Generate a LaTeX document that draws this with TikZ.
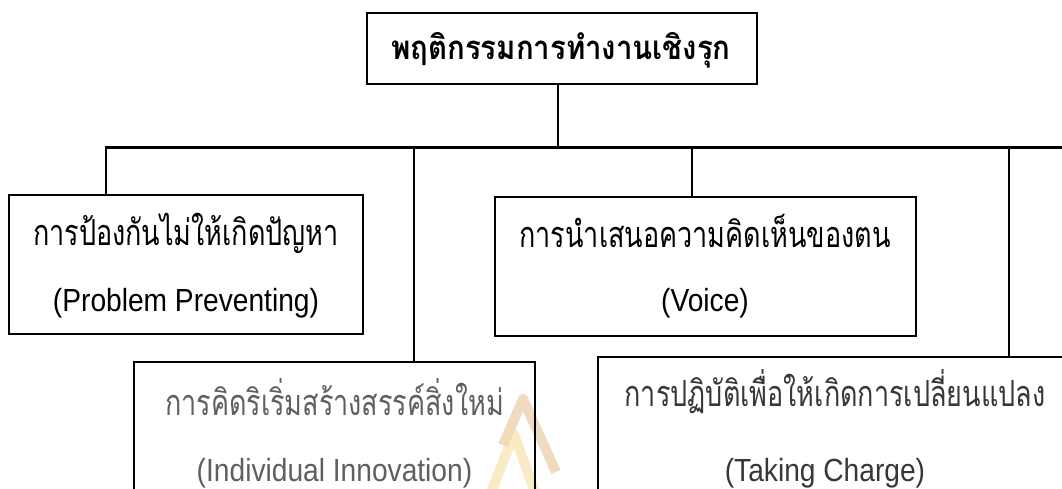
\documentclass[tikz,border=0pt]{standalone}
\usepackage{fontspec}
\newfontfamily\thaifont[Script=Thai,FakeStretch=0.75]{Loma}
\newfontfamily\thaititle[Script=Thai,FakeStretch=0.89]{Loma}
\newfontfamily\engfont[FakeStretch=0.88]{Liberation Sans}
\definecolor{wmtan}{RGB}{228,196,150}
\definecolor{wmyel}{RGB}{243,222,160}
\definecolor{fadeA}{RGB}{95,95,95}
\definecolor{fadeB}{RGB}{55,55,55}
\begin{document}
\begin{tikzpicture}[x=1pt,y=-1pt,
  box/.style={draw=black,line width=2pt,inner sep=0pt,outer sep=0pt},
  conn/.style={draw=black,line width=1.3pt},
  busline/.style={draw=black,line width=3pt},
  thtext/.style={font=\thaifont\fontsize{36}{42}\selectfont,anchor=base,inner sep=0pt},
  entext/.style={font=\engfont\fontsize{32}{38}\selectfont,anchor=center,inner sep=0pt},
  wm/.style={line width=10pt,line join=round,opacity=0.6}]
\useasboundingbox (0,0) rectangle (1062,489);
% watermark
\draw[wm,wmtan] (503,445) -- (523,399) -- (556,472);
\draw[wm,wmyel] (490,495) -- (514,434) -- (536,495);
% boxes
\node[box,minimum width=390pt,minimum height=71pt] (top) at (562,48.5) {};
\node[box,minimum width=354pt,minimum height=139pt] (prev) at (186,264.5) {};
\node[box,minimum width=421pt,minimum height=139pt] (voice) at (705,266.5) {};
\node[box,line width=1.8pt,minimum width=401pt,minimum height=160pt] (indiv) at (334.5,442) {};
\node[box,minimum width=500pt,minimum height=160pt,anchor=north west] (take) at (598,357) {};
% texts
\node[font=\thaititle\bfseries\fontsize{33}{38}\selectfont,anchor=base,inner sep=0pt] (topt) at (561,60) {พฤติกรรมการทำงานเชิงรุก};
\node[thtext] (prevt) at (186,245) {การป้องกันไม่ให้เกิดปัญหา};
\node[entext] (preve) at (186,303) {(Problem Preventing)};
\node[thtext] (voicet) at (705,247) {การนำเสนอความคิดเห็นของตน};
\node[entext] (voicee) at (705,303) {(Voice)};
\node[thtext,text=fadeA] (indivt) at (334.5,415) {การคิดริเริ่มสร้างสรรค์สิ่งใหม่};
\node[entext,text=fadeA] (indive) at (334.5,473) {(Individual Innovation)};
\node[thtext,text=fadeB] (taket) at (835,406) {การปฏิบัติเพื่อให้เกิดการเปลี่ยนแปลง};
\node[entext,text=fadeB] (takee) at (825,473) {(Taking Charge)};
% connectors
\coordinate (hub) at (558,148);
\coordinate (busL) at (105,148);
\coordinate (busR) at (1064,148);
\coordinate (d1) at (106,148);
\coordinate (d2) at (414,148);
\coordinate (d3) at (692,148);
\coordinate (d4) at (1009,148);
\draw[conn] (hub |- top.south) -- (hub);
\draw[busline] (busL) -- (busR);
\draw[conn] (d1) -- (d1 |- prev.north);
\draw[conn] (d2) -- (d2 |- indiv.north);
\draw[conn] (d3) -- (d3 |- voice.north);
\draw[conn] (d4) -- (d4 |- take.north);
\end{tikzpicture}
\end{document}
